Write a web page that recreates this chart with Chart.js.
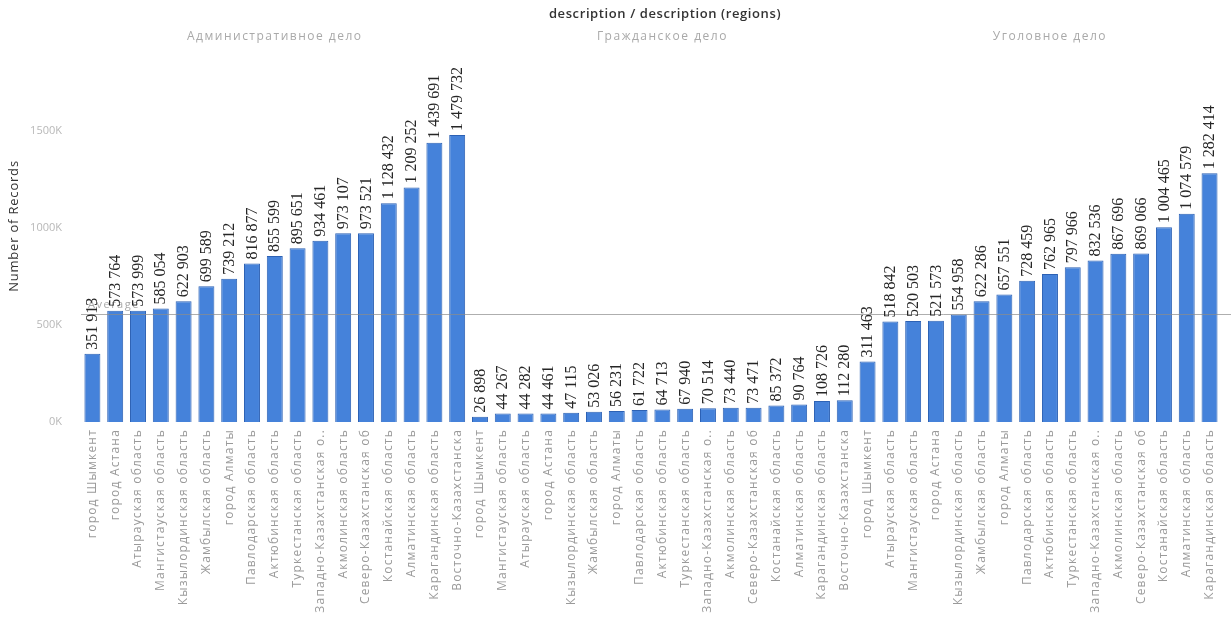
<!DOCTYPE html>
<html>
<head>
<meta charset="utf-8">
<script src="https://cdn.jsdelivr.net/npm/chart.js@4/dist/chart.umd.min.js"></script>
<style>
  html, body { margin: 0; padding: 0; background: #fff; }
  canvas { display: block; }
</style>
</head>
<body>
<canvas id="c" width="1231" height="617"></canvas>
<script>
// Case types (column panes)
const caseTypes = ['Административное дело', 'Гражданское дело', 'Уголовное дело'];

// Administrative cases by region
const adminRegions = [
  'город Шымкент', 'город Астана', 'Атырауская область', 'Мангистауская область',
  'Кызылординская область', 'Жамбылская область', 'город Алматы', 'Павлодарская область',
  'Актюбинская область', 'Туркестанская область', 'Западно-Казахстанская о..',
  'Акмолинская область', 'Северо-Казахстанская об', 'Костанайская область',
  'Алматинская область', 'Карагандинская область', 'Восточно-Казахстанска'
];
const adminValues = [
  351913, 573764, 573999, 585054, 622903, 699589, 739212, 816877,
  855599, 895651, 934461, 973107, 973521, 1128432, 1209252, 1439691, 1479732
];

// Civil cases by region
const civilRegions = [
  'город Шымкент', 'Мангистауская область', 'Атырауская область', 'город Астана',
  'Кызылординская область', 'Жамбылская область', 'город Алматы', 'Павлодарская область',
  'Актюбинская область', 'Туркестанская область', 'Западно-Казахстанская о..',
  'Акмолинская область', 'Северо-Казахстанская об', 'Костанайская область',
  'Алматинская область', 'Карагандинская область', 'Восточно-Казахстанска'
];
const civilValues = [
  26898, 44267, 44282, 44461, 47115, 53026, 56231, 61722,
  64713, 67940, 70514, 73440, 73471, 85372, 90764, 108726, 112280
];

// Criminal cases by region
const criminalRegions = [
  'город Шымкент', 'Атырауская область', 'Мангистауская область', 'город Астана',
  'Кызылординская область', 'Жамбылская область', 'город Алматы', 'Павлодарская область',
  'Актюбинская область', 'Туркестанская область', 'Западно-Казахстанская о..',
  'Акмолинская область', 'Северо-Казахстанская об', 'Костанайская область',
  'Алматинская область', 'Карагандинская область'
];
const criminalValues = [
  311463, 518842, 520503, 521573, 554958, 622286, 657551, 728459,
  762965, 797966, 832536, 867696, 869066, 1004465, 1074579, 1282414
];

// Value axis ticks
const yTicks = [0, 500000, 1000000, 1500000];
const yMax = 1800000;

// ---- build the flat category axis from the three panes ----
const groups = [
  { name: caseTypes[0], regions: adminRegions, values: adminValues },
  { name: caseTypes[1], regions: civilRegions, values: civilValues },
  { name: caseTypes[2], regions: criminalRegions, values: criminalValues }
];
const labels = [];
const values = [];
const paneStarts = [];
groups.forEach(g => {
  paneStarts.push(labels.length);
  labels.push(...g.regions);
  values.push(...g.values);
});
const paneSlots = Math.max(...groups.map(g => g.regions.length));
const average = values.reduce((a, b) => a + b, 0) / values.length;

const fmt = v => String(Math.round(v)).replace(/\B(?=(\d{3})+(?!\d))/g, ' ');

const UI_FONT = '"Open Sans", "Noto Sans", sans-serif';

// Wider letter spacing for the region labels under the bars
const spacedRegionLabels = {
  id: 'spacedRegionLabels',
  beforeDraw(chart) {
    const s = chart.scales.x;
    if (s && !s._spaced) {
      const draw = s.drawLabels.bind(s);
      s.drawLabels = function (area) {
        const ctx = this.ctx;
        ctx.save();
        ctx.letterSpacing = '1.2px';
        draw(area);
        ctx.restore();
      };
      s._spaced = true;
    }
  }
};

// Title, pane headers, axis title, average line and value labels
const decorations = {
  id: 'decorations',
  afterDatasetsDraw(chart) {
    const { ctx, chartArea, scales } = chart;
    const x = scales.x, y = scales.y;

    // reference line at the overall average
    const ay = Math.round(y.getPixelForValue(average)) + 0.5;
    ctx.save();
    ctx.strokeStyle = 'rgba(140,140,140,0.7)';
    ctx.lineWidth = 1;
    ctx.beginPath();
    ctx.moveTo(chartArea.left, ay);
    ctx.lineTo(chart.width, ay);
    ctx.stroke();
    ctx.fillStyle = '#a8a8a8';
    ctx.font = '11px ' + UI_FONT;
    ctx.letterSpacing = '1.5px';
    ctx.textAlign = 'left';
    ctx.textBaseline = 'bottom';
    ctx.fillText('Average', chartArea.left + 7, ay - 4);
    ctx.restore();

    // value labels above each bar, rotated
    const meta = chart.getDatasetMeta(0);
    ctx.save();
    ctx.fillStyle = '#262626';
    ctx.font = '16px "Liberation Serif", "DejaVu Serif", serif';
    ctx.textAlign = 'left';
    ctx.textBaseline = 'middle';
    meta.data.forEach((bar, i) => {
      ctx.save();
      ctx.translate(bar.x + 0.5, bar.y - 4);
      ctx.rotate(-Math.PI / 2);
      ctx.fillText(fmt(values[i]), 0, 0);
      ctx.restore();
    });
    ctx.restore();

    // chart title
    ctx.save();
    ctx.fillStyle = '#333';
    ctx.font = '600 13px ' + UI_FONT;
    ctx.letterSpacing = '0.6px';
    ctx.textAlign = 'center';
    ctx.textBaseline = 'middle';
    ctx.fillText('description / description (regions)', 665, 14);

    // pane headers
    ctx.fillStyle = '#a9a9a9';
    ctx.font = '12px ' + UI_FONT;
    ctx.letterSpacing = '1.5px';
    groups.forEach((g, gi) => {
      const cx = x.getPixelForValue(paneStarts[gi] + (paneSlots - 1) / 2);
      ctx.fillText(g.name, cx, 37);
    });

    // value axis title
    ctx.translate(14, 226);
    ctx.rotate(-Math.PI / 2);
    ctx.fillStyle = '#333';
    ctx.font = '13px ' + UI_FONT;
    ctx.letterSpacing = '0.8px';
    ctx.fillText('Number of Records', 0, 0);
    ctx.restore();
  }
};

new Chart(document.getElementById('c'), {
  type: 'bar',
  data: {
    labels: labels,
    datasets: [{
      data: values,
      backgroundColor: '#4582da',
      borderColor: '#2c61b4',
      borderWidth: 1,
      barPercentage: 0.7,
      categoryPercentage: 1.0
    }]
  },
  options: {
    responsive: false,
    animation: false,
    events: [],
    layout: { padding: { top: 73, right: 6, left: 0, bottom: 0 } },
    plugins: {
      legend: { display: false },
      title: { display: false },
      tooltip: { enabled: false }
    },
    scales: {
      x: {
        offset: true,
        grid: { display: false, drawTicks: false },
        border: { display: false },
        ticks: {
          autoSkip: false,
          minRotation: 90,
          maxRotation: 90,
          padding: 7,
          color: '#9a9a9a',
          font: { family: UI_FONT, size: 12 }
        },
        afterFit(scale) { scale.height = 195; }
      },
      y: {
        min: 0,
        max: yMax,
        grid: { display: false, drawTicks: false },
        border: { display: false },
        afterBuildTicks(scale) { scale.ticks = yTicks.map(v => ({ value: v })); },
        ticks: {
          padding: 19,
          color: '#b8b8b8',
          font: { family: UI_FONT, size: 11 },
          callback: v => (v / 1000) + 'K'
        },
        afterFit(scale) { scale.width = 81; }
      }
    }
  },
  plugins: [spacedRegionLabels, decorations]
});
</script>
</body>
</html>
